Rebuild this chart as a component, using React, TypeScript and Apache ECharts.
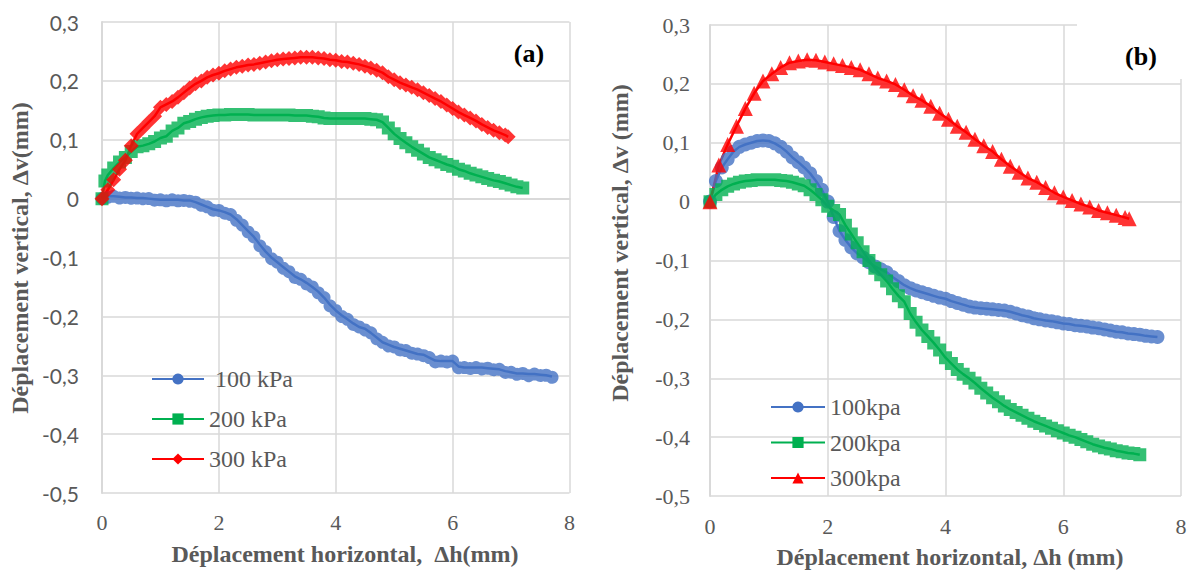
import React, { useEffect, useRef } from "react";
import * as echarts from "echarts";

// ---------- Panel (a) data: [Δh (mm), Δv (mm)] ----------
const aNames = [" 100 kPa", "200 kPa", "300 kPa"];
const a100: number[][] = [
  [0, 0], [0.1, 0.004], [0.2, 0.004], [0.3, 0.003], [0.4, 0.002], [0.5, 0.002], [0.6, 0.001],
  [0.7, 0.001], [0.8, 0], [0.9, -0.001], [1.0, -0.002], [1.1, -0.002], [1.2, -0.002],
  [1.3, -0.002], [1.4, -0.003], [1.5, -0.003], [1.6, -0.006], [1.7, -0.01], [1.8, -0.014],
  [1.9, -0.018], [2.0, -0.02], [2.1, -0.023], [2.2, -0.027], [2.3, -0.035], [2.4, -0.045],
  [2.5, -0.055], [2.6, -0.065], [2.7, -0.078], [2.8, -0.09], [2.9, -0.1], [3.0, -0.108],
  [3.1, -0.116], [3.2, -0.124], [3.3, -0.132], [3.4, -0.137], [3.5, -0.143], [3.6, -0.15],
  [3.7, -0.158], [3.8, -0.168], [3.9, -0.18], [4.0, -0.19], [4.1, -0.198], [4.2, -0.205],
  [4.3, -0.212], [4.4, -0.218], [4.5, -0.221], [4.6, -0.228], [4.7, -0.236], [4.8, -0.244],
  [4.9, -0.248], [5.0, -0.252], [5.1, -0.255], [5.2, -0.258], [5.3, -0.261], [5.4, -0.264],
  [5.5, -0.265], [5.6, -0.27], [5.7, -0.275], [5.8, -0.276], [5.9, -0.276], [6.0, -0.276],
  [6.1, -0.285], [6.2, -0.287], [6.3, -0.287], [6.4, -0.287], [6.5, -0.287], [6.6, -0.288],
  [6.7, -0.289], [6.8, -0.29], [6.9, -0.293], [7.0, -0.295], [7.1, -0.297], [7.2, -0.297],
  [7.3, -0.298], [7.4, -0.298], [7.5, -0.299], [7.6, -0.3], [7.7, -0.302],
];
const a200: number[][] = [
  [0, 0], [0.05, 0.03], [0.1, 0.04], [0.2, 0.052], [0.3, 0.062], [0.4, 0.07], [0.5, 0.08],
  [0.6, 0.088], [0.7, 0.09], [0.8, 0.093], [0.9, 0.097], [1.0, 0.103], [1.1, 0.106],
  [1.2, 0.115], [1.3, 0.12], [1.4, 0.128], [1.5, 0.131], [1.6, 0.135], [1.7, 0.138],
  [1.8, 0.14], [1.9, 0.141], [2.0, 0.142], [2.1, 0.142], [2.2, 0.143], [2.3, 0.143],
  [2.4, 0.143], [2.5, 0.143], [2.6, 0.142], [2.7, 0.142], [2.8, 0.142], [2.9, 0.142],
  [3.0, 0.142], [3.1, 0.142], [3.2, 0.142], [3.3, 0.141], [3.4, 0.141], [3.5, 0.141],
  [3.6, 0.14], [3.7, 0.139], [3.8, 0.137], [3.9, 0.136], [4.0, 0.136], [4.1, 0.136],
  [4.2, 0.136], [4.3, 0.136], [4.4, 0.136], [4.5, 0.136], [4.6, 0.135], [4.7, 0.134],
  [4.8, 0.13], [4.9, 0.12], [5.0, 0.11], [5.1, 0.102], [5.2, 0.095], [5.3, 0.088],
  [5.4, 0.082], [5.5, 0.076], [5.6, 0.07], [5.7, 0.066], [5.8, 0.062], [5.9, 0.058],
  [6.0, 0.055], [6.1, 0.05], [6.2, 0.047], [6.3, 0.043], [6.4, 0.04], [6.5, 0.037],
  [6.6, 0.034], [6.7, 0.031], [6.8, 0.029], [6.9, 0.026], [7.0, 0.023], [7.1, 0.02], [7.2, 0.018],
];
const a300: number[][] = [
  [0, 0], [0.1, 0.015], [0.2, 0.032], [0.3, 0.05], [0.4, 0.065], [0.5, 0.09], [0.6, 0.11],
  [0.7, 0.12], [0.8, 0.13], [0.9, 0.14], [1.0, 0.155], [1.1, 0.16], [1.2, 0.165],
  [1.3, 0.172], [1.4, 0.18], [1.5, 0.188], [1.6, 0.195], [1.7, 0.2], [1.8, 0.206],
  [1.9, 0.21], [2.0, 0.213], [2.1, 0.217], [2.2, 0.22], [2.3, 0.223], [2.4, 0.225],
  [2.5, 0.227], [2.6, 0.228], [2.7, 0.23], [2.8, 0.232], [2.9, 0.234], [3.0, 0.236],
  [3.1, 0.237], [3.2, 0.238], [3.3, 0.239], [3.4, 0.24], [3.5, 0.24], [3.6, 0.24],
  [3.7, 0.239], [3.8, 0.238], [3.9, 0.236], [4.0, 0.235], [4.1, 0.233], [4.2, 0.232],
  [4.3, 0.23], [4.4, 0.228], [4.5, 0.225], [4.6, 0.222], [4.7, 0.218], [4.8, 0.214],
  [4.9, 0.207], [5.0, 0.202], [5.1, 0.197], [5.2, 0.193], [5.3, 0.189], [5.4, 0.185],
  [5.5, 0.18], [5.6, 0.175], [5.7, 0.17], [5.8, 0.165], [5.9, 0.159], [6.0, 0.153],
  [6.1, 0.147], [6.2, 0.142], [6.3, 0.137], [6.4, 0.132], [6.5, 0.126], [6.6, 0.121],
  [6.7, 0.116], [6.8, 0.112], [6.9, 0.108], [6.95, 0.105],
];

// ---------- Panel (b) data ----------
const bNames = ["100kpa", "200kpa", "300kpa"];
const b100: number[][] = [
  [0, 0], [0.1, 0.035], [0.2, 0.058], [0.3, 0.072], [0.4, 0.085], [0.5, 0.093], [0.6, 0.097],
  [0.7, 0.1], [0.8, 0.103], [0.9, 0.104], [1.0, 0.103], [1.1, 0.099], [1.2, 0.093],
  [1.3, 0.085], [1.4, 0.075], [1.5, 0.067], [1.6, 0.058], [1.7, 0.048], [1.8, 0.035],
  [1.9, 0.02], [2.0, 0.0], [2.1, -0.026], [2.2, -0.05], [2.3, -0.065], [2.4, -0.078],
  [2.5, -0.088], [2.6, -0.095], [2.7, -0.103], [2.8, -0.11], [2.9, -0.115], [3.0, -0.12],
  [3.1, -0.128], [3.2, -0.135], [3.3, -0.142], [3.4, -0.147], [3.5, -0.151], [3.6, -0.154],
  [3.7, -0.157], [3.8, -0.16], [3.9, -0.163], [4.0, -0.165], [4.1, -0.169], [4.2, -0.172],
  [4.3, -0.175], [4.4, -0.178], [4.5, -0.18], [4.6, -0.181], [4.7, -0.182], [4.8, -0.183],
  [4.9, -0.184], [5.0, -0.185], [5.1, -0.187], [5.2, -0.19], [5.3, -0.193], [5.4, -0.195],
  [5.5, -0.198], [5.6, -0.2], [5.7, -0.202], [5.8, -0.203], [5.9, -0.205], [6.0, -0.207],
  [6.1, -0.208], [6.2, -0.21], [6.3, -0.211], [6.4, -0.212], [6.5, -0.214], [6.6, -0.215],
  [6.7, -0.217], [6.8, -0.219], [6.9, -0.221], [7.0, -0.222], [7.1, -0.224], [7.2, -0.225],
  [7.3, -0.226], [7.4, -0.228], [7.5, -0.229], [7.6, -0.23],
];
const b200: number[][] = [
  [0, 0], [0.1, 0.012], [0.2, 0.02], [0.3, 0.026], [0.4, 0.03], [0.5, 0.033], [0.6, 0.035],
  [0.7, 0.036], [0.8, 0.037], [0.9, 0.037], [1.0, 0.037], [1.1, 0.037], [1.2, 0.036],
  [1.3, 0.035], [1.4, 0.033], [1.5, 0.03], [1.6, 0.027], [1.7, 0.02], [1.8, 0.012],
  [1.9, 0.003], [2.0, -0.008], [2.1, -0.015], [2.2, -0.022], [2.3, -0.04], [2.4, -0.055],
  [2.5, -0.07], [2.6, -0.085], [2.7, -0.1], [2.8, -0.113], [2.9, -0.124], [3.0, -0.135],
  [3.1, -0.148], [3.2, -0.16], [3.3, -0.17], [3.4, -0.19], [3.5, -0.205], [3.6, -0.218],
  [3.7, -0.229], [3.8, -0.24], [3.9, -0.252], [4.0, -0.265], [4.1, -0.275], [4.2, -0.285],
  [4.3, -0.293], [4.4, -0.3], [4.5, -0.308], [4.6, -0.317], [4.7, -0.325], [4.8, -0.333],
  [4.9, -0.34], [5.0, -0.347], [5.1, -0.353], [5.2, -0.358], [5.3, -0.363], [5.4, -0.368],
  [5.5, -0.373], [5.6, -0.377], [5.7, -0.381], [5.8, -0.385], [5.9, -0.389], [6.0, -0.393],
  [6.1, -0.397], [6.2, -0.4], [6.3, -0.404], [6.4, -0.408], [6.5, -0.412], [6.6, -0.415],
  [6.7, -0.418], [6.8, -0.42], [6.9, -0.423], [7.0, -0.425], [7.1, -0.427], [7.2, -0.428],
  [7.3, -0.43],
];
const b300: number[][] = [
  [0, 0], [0.15, 0.062], [0.3, 0.097], [0.45, 0.128], [0.6, 0.158], [0.75, 0.184],
  [0.9, 0.205], [1.05, 0.217], [1.2, 0.228], [1.35, 0.236], [1.5, 0.239], [1.65, 0.241],
  [1.8, 0.24], [1.95, 0.237], [2.1, 0.234], [2.25, 0.231], [2.4, 0.228], [2.55, 0.224],
  [2.7, 0.217], [2.85, 0.21], [3.0, 0.205], [3.15, 0.199], [3.3, 0.19], [3.45, 0.18],
  [3.6, 0.172], [3.75, 0.162], [3.9, 0.15], [4.05, 0.14], [4.2, 0.128], [4.35, 0.118],
  [4.5, 0.106], [4.65, 0.095], [4.8, 0.085], [4.95, 0.072], [5.1, 0.06], [5.25, 0.05],
  [5.4, 0.04], [5.55, 0.033], [5.7, 0.024], [5.85, 0.015], [6.0, 0.008], [6.15, 0.002],
  [6.3, -0.004], [6.45, -0.009], [6.6, -0.015], [6.75, -0.019], [6.9, -0.023],
  [7.05, -0.027], [7.12, -0.029],
];

const xTitleA = "Déplacement horizontal,  Δh(mm)";
const yTitleA = "Déplacement vertical, Δv(mm)";
const xTitleB = "Déplacement horizontal, Δh (mm)";
const yTitleB = "Déplacement vertical, Δv (mm)";

const BLUE = "#4472C4";
const GREEN = "#00B050";
const RED = "#FF0000";
const GRID = "#d9d9d9";
const TXT = "#595959";
const SERIF = "Times New Roman";
const SANS = "Lato";

const fmtY = (v: number) => (Math.abs(v) < 1e-9 ? "0" : v.toFixed(1).replace(".", ","));

export default function App() {
  const ref = useRef<HTMLDivElement>(null);
  useEffect(() => {
    if (!ref.current) return;
    document.body.style.margin = "0";
    const chart = echarts.init(ref.current, undefined, { renderer: "svg" });

    const xAxisBase = (gridIndex: number, margin: number) => ({
      type: "value" as const,
      gridIndex,
      min: 0,
      max: 8,
      interval: 2,
      axisLine: { show: true, lineStyle: { color: GRID, width: 2 } },
      axisTick: { show: false },
      splitLine: { show: true, lineStyle: { color: GRID, width: 1.5 } },
      axisLabel: { margin, color: TXT, fontFamily: SERIF, fontSize: 22 },
    });
    const yAxisBase = (gridIndex: number, margin: number, font: string, size: number) => ({
      type: "value" as const,
      gridIndex,
      min: -0.5,
      max: 0.3,
      interval: 0.1,
      axisLine: { show: true, lineStyle: { color: GRID, width: 2 } },
      axisTick: { show: false },
      splitLine: { show: true, lineStyle: { color: GRID, width: 1.5 } },
      axisLabel: { margin, color: TXT, fontFamily: font, fontSize: size, formatter: fmtY },
    });

    // line (with legend icon) + one large-mode scatter for the markers
    const mkLine = (name: string, data: number[][], idx: number, color: string, symbol: string, size: number) => ({
      type: "line" as const,
      name,
      data,
      xAxisIndex: idx,
      yAxisIndex: idx,
      symbol,
      symbolSize: size,
      showSymbol: false,
      itemStyle: { color },
      lineStyle: { color, width: 2.5 },
      z: 2,
    });
    const mkDots = (data: number[][], idx: number, color: string, symbol: string, size: number) => ({
      type: "scatter" as const,
      data,
      xAxisIndex: idx,
      yAxisIndex: idx,
      symbol,
      symbolSize: size,
      large: true,
      largeThreshold: 1,
      itemStyle: { color },
      silent: true,
      z: 3,
    });

    const legendText = { color: TXT, fontFamily: SERIF, fontSize: 24 };
    const txt = (text: string, x: number, y: number, size: number, fill: string, rot = 0) => ({
      type: "text" as const,
      z: 5,
      x,
      y,
      rotation: rot,
      style: {
        text,
        font: `bold ${size}px ${SERIF}`,
        fill,
        align: "center",
        verticalAlign: "middle",
      },
    });

    chart.setOption({
      animation: false,
      grid: [
        { left: 102, top: 22, width: 467.5, height: 471 },
        { left: 710, top: 25, width: 471, height: 471 },
      ],
      xAxis: [xAxisBase(0, 18), xAxisBase(1, 19)],
      yAxis: [yAxisBase(0, 23, SANS, 21), yAxisBase(1, 20, SERIF, 22)],
      legend: [
        {
          data: aNames,
          orient: "vertical",
          left: 146,
          top: 362,
          itemWidth: 52,
          itemHeight: 14,
          itemGap: 16,
          textStyle: legendText,
        },
        {
          data: bNames,
          orient: "vertical",
          left: 765,
          top: 390,
          itemWidth: 54,
          itemHeight: 14,
          itemGap: 11.5,
          textStyle: legendText,
        },
      ],
      series: [
        mkLine(aNames[0], a100, 0, BLUE, "circle", 13),
        mkLine(aNames[1], a200, 0, GREEN, "rect", 13),
        mkLine(aNames[2], a300, 0, RED, "diamond", 15),
        mkLine(bNames[0], b100, 1, BLUE, "circle", 14),
        mkLine(bNames[1], b200, 1, GREEN, "rect", 13),
        mkLine(bNames[2], b300, 1, RED, "triangle", 15),
        mkDots(a100, 0, BLUE, "circle", 13),
        mkDots(a200, 0, GREEN, "rect", 13),
        mkDots(a300, 0, RED, "diamond", 15),
        mkDots(b100, 1, BLUE, "circle", 14),
        mkDots(b200, 1, GREEN, "rect", 13),
        mkDots(b300, 1, RED, "triangle", 15),
      ],
      graphic: [
        {
          type: "rect",
          z: 1,
          shape: { x: 1077, y: 20, width: 110, height: 59 },
          style: { fill: "#ffffff" },
        },
        txt("(a)", 529, 53, 26, "#000000"),
        txt("(b)", 1141, 56, 26, "#000000"),
        txt(xTitleA, 345, 554, 24, TXT),
        txt(xTitleB, 950, 557, 24, TXT),
        txt(yTitleA, 20, 258, 24, TXT, Math.PI / 2),
        txt(yTitleB, 620, 243, 24, TXT, Math.PI / 2),
      ],
    });
    return () => chart.dispose();
  }, []);
  return <div ref={ref} style={{ position: "absolute", left: 0, top: 0, width: 1192, height: 570, background: "#ffffff" }} />;
}
